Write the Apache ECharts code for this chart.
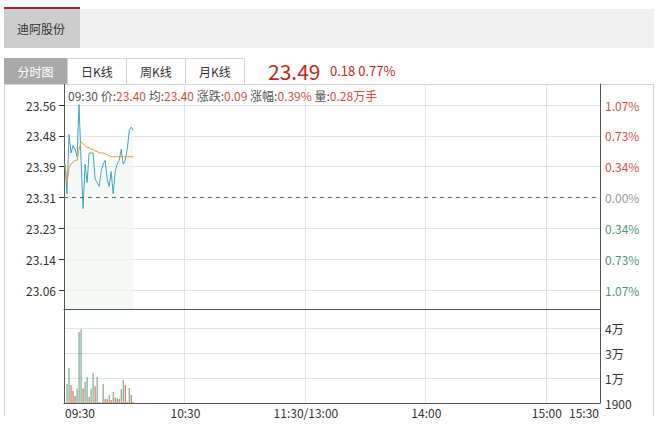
<!DOCTYPE html>
<html><head><meta charset="utf-8">
<script src="https://cdn.jsdelivr.net/npm/echarts@6/dist/echarts.min.js"></script>
<style>
html,body{margin:0;padding:0;width:659px;height:425px;overflow:hidden;background:#fff;font-family:"Noto Sans CJK SC","Noto Sans",sans-serif;}
#chart{position:absolute;left:0;top:0;width:659px;height:425px;}
.abs{position:absolute;box-sizing:border-box;white-space:nowrap;}
.tab{top:58px;height:26px;line-height:25px;font-size:12px;text-align:center;color:#333;background:#fff;border:1px solid #d4d4d4;border-bottom:none;}
.lb{color:#555}.vl{color:#cf5444}
</style></head><body>
<div class="abs" style="left:4px;top:84px;width:650px;height:1px;background:#d4d4d4"></div>
<div class="abs" style="left:4px;top:84px;width:1px;height:332px;background:#d4d4d4"></div>
<div class="abs" style="left:653px;top:84px;width:1px;height:332px;background:#d4d4d4"></div>
<div id="chart"></div>
<div class="abs" style="left:4px;top:9px;width:650px;height:39px;background:#f0f0f0"></div>
<div class="abs" id="nameTab" style="left:4px;top:7px;width:76px;height:41px;background:#cdcdcd;border-top:2px solid #a8262a;font-size:12px;color:#333;line-height:39px;padding-left:13px"></div>
<div class="abs tab" style="left:4px;width:63px;background:#a9a9a9;color:#fff;border-color:#a9a9a9">分时图</div>
<div class="abs tab" style="left:67px;width:60px">日K线</div>
<div class="abs tab" style="left:126px;width:60px">周K线</div>
<div class="abs tab" style="left:185px;width:60px">月K线</div>
<div class="abs" id="lastPx" style="left:268px;top:57px;font-size:21px;line-height:28px;color:#bd2a25"></div>
<div class="abs" id="chg" style="left:330px;top:61px;font-size:13px;line-height:20px;color:#bd2a25"></div>
<div class="abs" id="info" style="left:68px;top:88px;font-size:12px;line-height:16px"></div>
<script>
// ---- data ----
const stockName = '迪阿股份';
const prevClose = 23.31;
const firstMinuteVolume = 2800; // shown in the info line (0.28万手)
const price = [23.40,23.32,23.48,23.43,23.45,23.44,23.42,23.56,23.41,23.28,23.40,23.35,23.43,23.43,23.43,23.36,23.35,23.34,23.38,23.40,23.41,23.36,23.34,23.38,23.32,23.38,23.40,23.41,23.44,23.40,23.41,23.44,23.49,23.50,23.49];
const avgPrice = [23.40,23.35,23.39,23.40,23.405,23.41,23.41,23.44,23.46,23.455,23.45,23.445,23.445,23.44,23.44,23.435,23.435,23.43,23.43,23.43,23.428,23.425,23.423,23.42,23.42,23.42,23.42,23.42,23.42,23.42,23.42,23.42,23.42,23.42,23.42];
const volume = [0,9500,17500,9000,6000,3500,7300,35500,36900,7300,10500,13000,3000,7300,15000,8500,13000,500,250,9500,2000,2000,4000,1500,5500,2800,2300,2000,7000,11500,9000,500,7500,4000,500];
const volUp = [1,0,0,1,1,1,0,0,0,1,0,0,1,0,0,1,0,1,1,0,1,1,0,1,0,1,1,1,0,0,1,1,0,1,1];
const priceTickLabels = ['23.06','23.14','23.23','23.31','23.39','23.48','23.56'];
const pctTickLabels = ['1.07%','0.73%','0.34%','0.00%','0.34%','0.73%','1.07%'];
const volTickLabels = ['1900','1万','3万','4万'];
const xTicks = ['09:30','10:30','11:30','14:00','15:00','15:30'];
const xTickText = ['09:30','10:30','11:30/13:00','14:00','15:00','15:30'];
const volStep = 12500, volMax = 47000;
const yMin = 23.0094, yMax = 23.616;

// ---- time categories ----
function hm(m){const h=Math.floor(m/60),mm=m%60;return (h<10?'0':'')+h+':'+(mm<10?'0':'')+mm;}
const times=[];
for(let m=570;m<=690;m++)times.push(hm(m));
for(let m=781;m<=900;m++)times.push(hm(m));
for(let m=905;m<=930;m++)times.push(hm(m));

// ---- header texts from data ----
document.getElementById('nameTab').textContent = stockName;
const last = price[price.length-1];
document.getElementById('lastPx').textContent = last.toFixed(2);
document.getElementById('chg').textContent = (last-prevClose).toFixed(2)+' '+((last-prevClose)/prevClose*100).toFixed(2)+'%';
const d0 = price[0]-prevClose;
document.getElementById('info').innerHTML =
 '<span class="lb">'+times[0]+' 价:</span><span class="vl">'+price[0].toFixed(2)+'</span>'+
 '<span class="lb"> 均:</span><span class="vl">'+avgPrice[0].toFixed(2)+'</span>'+
 '<span class="lb"> 涨跌:</span><span class="vl">'+d0.toFixed(2)+'</span>'+
 '<span class="lb"> 涨幅:</span><span class="vl">'+(d0/prevClose*100).toFixed(2)+'%</span>'+
 '<span class="lb"> 量:</span><span class="vl">'+(firstMinuteVolume/10000).toFixed(2)+'万手</span>';

const FONT = '"Noto Sans CJK SC","Noto Sans",sans-serif';
const gridLine = '#e3e3e3', axisDark = '#555';
const isTick = (idx, val) => xTicks.indexOf(val) >= 0;
const isSplit = (idx, val) => { const k = xTicks.indexOf(val); return k > 0 && k < xTicks.length-1; };

const chart = echarts.init(document.getElementById('chart'), null, {renderer:'svg'});
chart.setOption({
  animation:false,
  textStyle:{fontFamily:FONT},
  grid:[
    {left:64,right:59,top:84,height:225},
    {left:64,right:59,top:105,height:185},
    {left:64,right:59,top:309,height:94}
  ],
  xAxis:[
    {type:'category',gridIndex:0,data:times,boundaryGap:true,
     axisLine:{lineStyle:{color:axisDark}},axisTick:{show:false},axisLabel:{show:false},
     splitLine:{show:true,interval:isSplit,lineStyle:{color:gridLine}}},
    {type:'value',gridIndex:1,show:false,min:0,max:1},
    {type:'category',gridIndex:2,data:times,boundaryGap:true,
     axisLine:{lineStyle:{color:axisDark}},axisTick:{show:false},
     axisLabel:{interval:isTick,formatter:(v)=>xTickText[xTicks.indexOf(v)],color:'#333',fontSize:12,margin:3,
       alignMinLabel:'left',alignMaxLabel:'right',fontFamily:FONT},
     splitLine:{show:true,interval:isSplit,lineStyle:{color:gridLine}}}
  ],
  yAxis:[
    {type:'value',gridIndex:0,min:yMin,max:yMax,axisLine:{show:true,lineStyle:{color:axisDark}},
     axisTick:{show:false},axisLabel:{show:false},splitLine:{show:false}},
    {type:'value',gridIndex:0,position:'right',min:yMin,max:yMax,axisLine:{show:true,lineStyle:{color:axisDark}},
     axisTick:{show:false},axisLabel:{show:false},splitLine:{show:false}},
    {type:'value',gridIndex:1,min:-3,max:3,interval:1,axisLine:{show:false},
     axisTick:{show:true,length:5,lineStyle:{color:'#333'}},
     axisLabel:{formatter:(v)=>priceTickLabels[Math.round(v)+3],color:'#333',fontSize:12,margin:8,fontFamily:FONT},
     splitLine:{show:true,lineStyle:{color:[gridLine,gridLine,gridLine,'rgba(0,0,0,0)',gridLine,gridLine,gridLine]}}},
    {type:'value',gridIndex:1,position:'right',min:-3,max:3,interval:1,axisLine:{show:false},axisTick:{show:false},
     axisLabel:{formatter:(v)=>pctTickLabels[Math.round(v)+3],fontSize:12,margin:5,fontFamily:FONT,
       color:(v)=>{v=Number(v);return v>0?'#cf5444':(v<0?'#4f9a6c':'#999');}},
     splitLine:{show:false}},
    {type:'value',gridIndex:2,min:0,max:volMax,interval:volStep,axisLine:{show:true,lineStyle:{color:axisDark}},
     axisTick:{show:false},axisLabel:{show:false},splitLine:{show:true,lineStyle:{color:gridLine}}},
    {type:'value',gridIndex:2,position:'right',min:0,max:volMax,interval:volStep,axisLine:{show:true,lineStyle:{color:axisDark}},
     axisTick:{show:false},splitLine:{show:false},
     axisLabel:{formatter:(v)=>{const k=v/volStep;return Number.isInteger(k)&&volTickLabels[k]!==undefined?volTickLabels[k]:'';},
       color:'#333',fontSize:12,margin:5,fontFamily:FONT}}
  ],
  series:[
    {type:'line',xAxisIndex:0,yAxisIndex:0,data:price,symbol:'none',
     lineStyle:{color:'#3ca7c9',width:1},itemStyle:{color:'#3ca7c9'},
     areaStyle:{color:'#eff7f2',origin:'start'},
     markLine:{silent:true,symbol:'none',label:{show:false},
       lineStyle:{color:'#666',type:[4,4],width:1},data:[{yAxis:prevClose}]}},
    {type:'line',xAxisIndex:0,yAxisIndex:0,data:avgPrice,symbol:'none',
     lineStyle:{color:'#e39b3b',width:1},itemStyle:{color:'#e39b3b'}},
    {type:'bar',xAxisIndex:2,yAxisIndex:4,barWidth:1,
     data:volume.map((v,i)=>({value:v,itemStyle:{color:volUp[i]?'#c9553f':'#5d9c76'}}))}
  ]
});
</script>
</body></html>
